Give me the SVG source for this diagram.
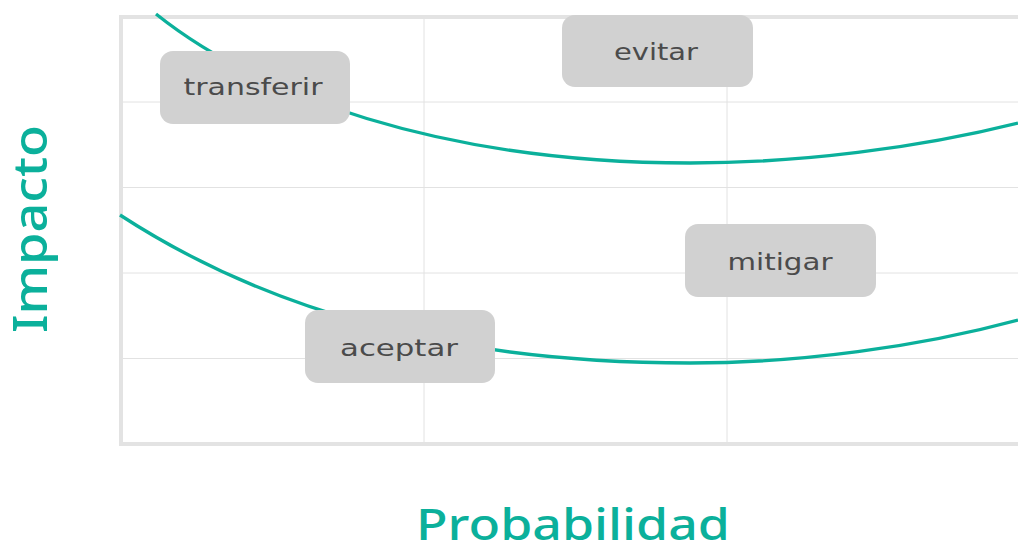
<svg xmlns="http://www.w3.org/2000/svg" width="1018" height="545" viewBox="0 0 1018 545">
  <style>
    .grid { stroke: #e2e2e2; stroke-width: 1; fill: none; }
    .frame { stroke: #e3e3e3; stroke-width: 4; fill: none; }
    .curve { stroke: #0bb09b; stroke-width: 3.3; fill: none; }
    .box { fill: #d1d1d1; }
    .lbl { font-family: "DejaVu Sans", "Liberation Sans", sans-serif; font-size: 23px; fill: #4b4b4b; text-anchor: middle; }
    .axis { font-family: "Noto Sans", "Liberation Sans", sans-serif; fill: #0bb09b; text-anchor: middle; font-weight: 500; }
  </style>
  <rect width="1018" height="545" fill="#ffffff"/>
  <g id="grid">
    <line class="grid" x1="121" y1="102" x2="1018" y2="102"/>
    <line class="grid" x1="121" y1="187.5" x2="1018" y2="187.5"/>
    <line class="grid" x1="121" y1="273" x2="1018" y2="273"/>
    <line class="grid" x1="121" y1="358.5" x2="1018" y2="358.5"/>
    <line class="grid" x1="424" y1="17" x2="424" y2="444"/>
    <line class="grid" x1="727" y1="17" x2="727" y2="444"/>
    <rect class="frame" x="121" y="17" width="920" height="427"/>
  </g>
  <g id="connectors">
    <path class="curve" d="M156,14 C256,94 440,163 690,163 C800,163 918,148 1018,123"/>
    <path class="curve" d="M120,215 C260,306 440,363 690,363 C800,363 918,347 1018,320"/>
  </g>
  <g id="transferir">
    <rect class="box" x="160" y="51" width="190" height="73" rx="13"/>
    <text class="lbl" x="253" y="95" textLength="139" lengthAdjust="spacingAndGlyphs">transferir</text>
  </g>
  <g id="evitar">
    <rect class="box" x="562" y="15" width="191" height="72" rx="13"/>
    <text class="lbl" x="656" y="60" textLength="84" lengthAdjust="spacingAndGlyphs">evitar</text>
  </g>
  <g id="mitigar">
    <rect class="box" x="685" y="224" width="191" height="73" rx="13"/>
    <text class="lbl" x="780" y="270" textLength="105" lengthAdjust="spacingAndGlyphs">mitigar</text>
  </g>
  <g id="aceptar">
    <rect class="box" x="305" y="310" width="190" height="73" rx="13"/>
    <text class="lbl" x="399" y="356" textLength="118" lengthAdjust="spacingAndGlyphs">aceptar</text>
  </g>
  <g id="axis-labels">
    <text class="axis" font-size="48" transform="translate(47,229) rotate(-90)" textLength="208" lengthAdjust="spacingAndGlyphs">Impacto</text>
    <text class="axis" font-size="44" x="573" y="540" textLength="314" lengthAdjust="spacingAndGlyphs">Probabilidad</text>
  </g>
</svg>
